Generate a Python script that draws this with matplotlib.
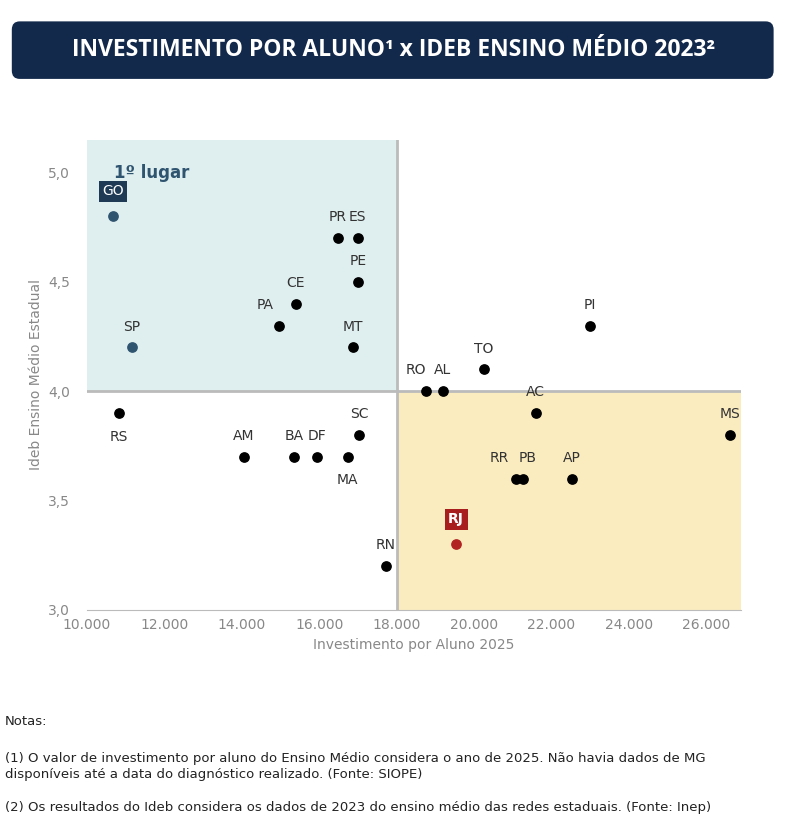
import matplotlib
matplotlib.use("Agg")
import matplotlib.pyplot as plt
from matplotlib.patches import FancyBboxPatch, Rectangle

states = ["GO","SP","RS","PA","CE","PR","ES","PE","MT","AM","BA","DF","MA","SC","RN","RJ","RO","AL","TO","AC","RR","PB","AP","PI","MS"]
invest = [10670,11160,10830,14960,15400,16490,17000,17000,16870,14060,15350,15940,16740,17030,17730,19540,18760,19200,20260,21600,21090,21270,22530,23000,26620]
ideb = [4.8,4.2,3.9,4.3,4.4,4.7,4.7,4.5,4.2,3.7,3.7,3.7,3.7,3.8,3.2,3.3,4.0,4.0,4.1,3.9,3.6,3.6,3.6,4.3,3.8]
below = {"RS","MA"}
dx = {"RO":-7,"AL":0,"RR":-12,"PB":3,"PA":-10}
xticks = [10000,12000,14000,16000,18000,20000,22000,24000,26000]
yticks = [3.0,3.5,4.0,4.5,5.0]

fig = plt.figure(figsize=(7.87,8.22), dpi=100)
fig.patches.append(FancyBboxPatch((0.015,0.904),0.968,0.07, boxstyle="round,pad=0,rounding_size=0.01",
    transform=fig.transFigure, facecolor="#13294b", edgecolor="none"))
fig.text(0.5,0.939,"INVESTIMENTO POR ALUNO¹ x IDEB ENSINO MÉDIO 2023²", color="white",
         ha="center", va="center", fontsize=16.5, fontweight="bold", family="Open Sans")

ax = fig.add_axes([0.1105,0.258,0.831,0.572])
ax.set_xlim(10000,26900); ax.set_ylim(3.0,5.15)
ax.add_patch(Rectangle((10000,4.0),8000,1.15,facecolor="#dfeeee",edgecolor="none",zorder=0))
ax.add_patch(Rectangle((18000,3.0),8900,1.0,facecolor="#fbecc0",edgecolor="none",zorder=0))
ax.axvline(18000,color="#bbbbbb",lw=2,zorder=1)
ax.axhline(4.0,color="#bbbbbb",lw=2,zorder=1)
for s in ax.spines.values(): s.set_visible(False)
ax.spines["bottom"].set_visible(True); ax.spines["bottom"].set_color("#bbbbbb")
ax.set_xticks(xticks); ax.set_xticklabels([f"{v:,}".replace(",",".") for v in xticks])
ax.set_yticks(yticks); ax.set_yticklabels([f"{v:.1f}".replace(".",",") for v in yticks])
ax.tick_params(colors="#888888", labelsize=10, length=0)
ax.tick_params(axis="y", pad=12)
ax.tick_params(axis="x", pad=6)
ax.set_xlabel("Investimento por Aluno 2025", color="#888888", fontsize=10)
ax.set_ylabel("Ideb Ensino Médio Estadual", color="#888888", fontsize=10)

for s,x,y in zip(states,invest,ideb):
    c = "black"
    if s in ("GO","SP"): c = "#2f5470"
    if s == "RJ": c = "#b22222"
    ax.scatter(x,y,s=45,color=c,zorder=3)
    if s == "GO":
        ax.annotate(s,(x,y),xytext=(0,18),textcoords="offset points",ha="center",va="center",color="white",fontsize=10,
                    bbox=dict(boxstyle="square,pad=0.25",fc="#1e3a55",ec="none"))
    elif s == "RJ":
        ax.annotate(s,(x,y),xytext=(0,18),textcoords="offset points",ha="center",va="center",color="white",fontsize=10,fontweight="bold",
                    bbox=dict(boxstyle="square,pad=0.25",fc="#a81e1e",ec="none"))
    elif s in below:
        ax.annotate(s,(x,y),xytext=(0,-17),textcoords="offset points",ha="center",va="center",color="#333333",fontsize=10)
    else:
        ax.annotate(s,(x,y),xytext=(dx.get(s,0),15),textcoords="offset points",ha="center",va="center",color="#333333",fontsize=10)
ax.text(10700,5.0,"1º lugar",color="#2f5470",fontsize=12,fontweight="bold",va="center")

fig.text(0.006,0.122,"Notas:",fontsize=9.5,color="#222222",va="center")
fig.text(0.006,0.068,"(1) O valor de investimento por aluno do Ensino Médio considera o ano de 2025. Não havia dados de MG\ndisponíveis até a data do diagnóstico realizado. (Fonte: SIOPE)",fontsize=9.5,color="#222222",va="center",linespacing=1.3)
fig.text(0.006,0.018,"(2) Os resultados do Ideb considera os dados de 2023 do ensino médio das redes estaduais. (Fonte: Inep)",fontsize=9.5,color="#222222",va="center")
fig.savefig("out.png",dpi=100,facecolor="white")
